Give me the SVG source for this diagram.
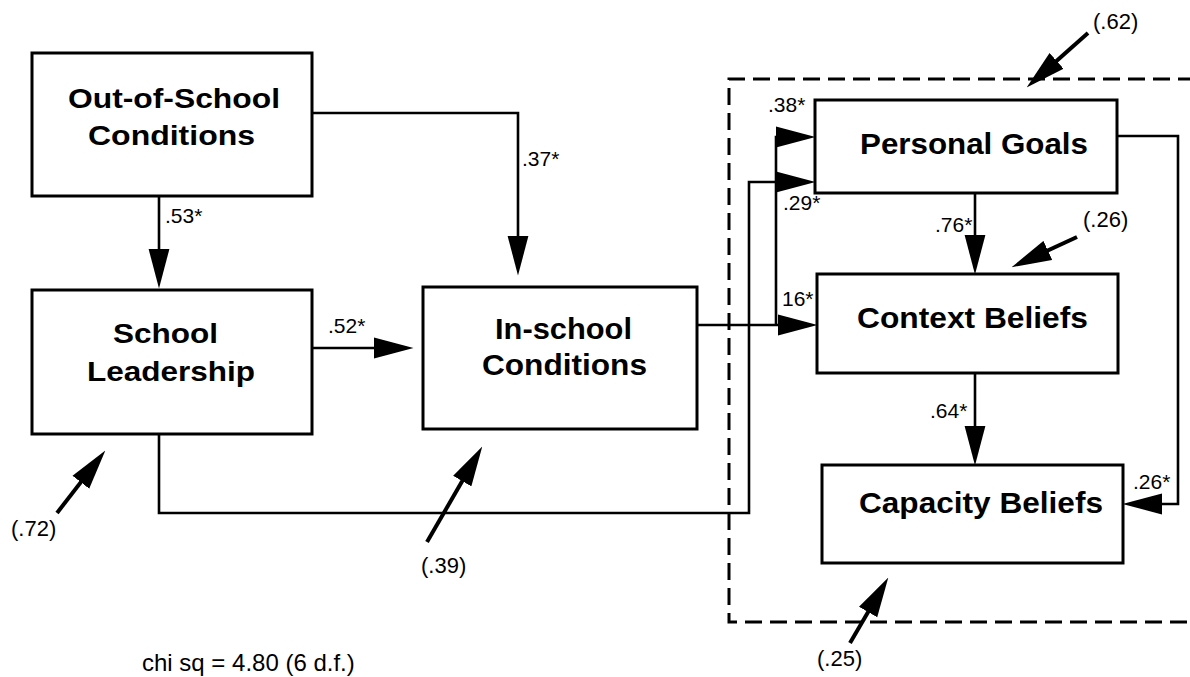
<svg xmlns="http://www.w3.org/2000/svg" width="1190" height="677" viewBox="0 0 1190 677">
<style>
.box{fill:#fff;stroke:#000;stroke-width:3}
.lbl{font-family:"Liberation Sans",Arial,sans-serif;font-weight:bold;fill:#000}
.conn{fill:none;stroke:#000;stroke-width:2.6;marker-end:url(#ah)}
.res{fill:none;stroke:#000;stroke-width:4;marker-end:url(#ah)}
.num{font-family:"Liberation Sans",Arial,sans-serif;font-size:21px;fill:#000}
.rnum{font-family:"Liberation Sans",Arial,sans-serif;font-size:22px;fill:#000}
.note{font-family:"Liberation Sans",Arial,sans-serif;font-size:24px;fill:#000}
.dash{fill:none;stroke:#000;stroke-width:3;stroke-dasharray:17 8}
</style>
<defs>
<marker id="ah" markerUnits="userSpaceOnUse" markerWidth="40" markerHeight="22" viewBox="0 0 38 20" refX="28" refY="10" orient="auto">
<path d="M0,0 L38,10 L0,20 z" fill="#000"/>
</marker>
</defs>
<rect width="1190" height="677" fill="#fff"/>

<path class="dash" d="M1195,79 L729,79 L729,622 L1195,622"/>

<g id="out-of-school">
<rect class="box" x="32" y="53" width="280" height="143"/>
<text class="lbl" font-size="28" x="68" y="108" textLength="212" lengthAdjust="spacingAndGlyphs">Out-of-School</text>
<text class="lbl" font-size="28" x="88" y="145" textLength="167" lengthAdjust="spacingAndGlyphs">Conditions</text>
</g>
<g id="school-leadership">
<rect class="box" x="32" y="290" width="280" height="144"/>
<text class="lbl" font-size="28" x="113" y="343" textLength="105" lengthAdjust="spacingAndGlyphs">School</text>
<text class="lbl" font-size="28" x="87" y="381" textLength="168" lengthAdjust="spacingAndGlyphs">Leadership</text>
</g>
<g id="in-school">
<rect class="box" x="423" y="287" width="274" height="142"/>
<text class="lbl" font-size="29" x="495" y="339" textLength="137" lengthAdjust="spacingAndGlyphs">In-school</text>
<text class="lbl" font-size="29" x="482" y="375" textLength="165" lengthAdjust="spacingAndGlyphs">Conditions</text>
</g>
<g id="personal-goals">
<rect class="box" x="815" y="100" width="302" height="93"/>
<text class="lbl" font-size="30" x="860" y="154" textLength="228" lengthAdjust="spacingAndGlyphs">Personal Goals</text>
</g>
<g id="context-beliefs">
<rect class="box" x="817" y="274" width="301" height="99"/>
<text class="lbl" font-size="30" x="857" y="328" textLength="231" lengthAdjust="spacingAndGlyphs">Context Beliefs</text>
</g>
<g id="capacity-beliefs">
<rect class="box" x="822" y="465" width="301" height="98"/>
<text class="lbl" font-size="30" x="859" y="513" textLength="244" lengthAdjust="spacingAndGlyphs">Capacity Beliefs</text>
</g>

<g id="connectors">
<path class="conn" d="M159,196 L159,278"/>
<path class="conn" d="M312,113 L518,113 L518,265"/>
<path class="conn" d="M312,348 L403,348"/>
<path class="conn" d="M697,325 L807,325"/>
<path class="conn" d="M776,325 L776,137 L805,137"/>
<path class="conn" d="M159,434 L159,513 L749,513 L749,182 L805,182"/>
<path class="conn" d="M975,193 L975,264"/>
<path class="conn" d="M975,373 L975,455"/>
<path class="conn" d="M1117,136 L1178,136 L1178,504 L1133,504"/>
<path class="res" d="M57,513 L98.9,458.9"/>
<path class="res" d="M427,542 L477,455.6"/>
<path class="res" d="M1088,33 L1034.5,80.4"/>
<path class="res" d="M1077,237 L1021.1,262.8"/>
<path class="res" d="M850,643 L883,586.6"/>
</g>

<g id="labels">
<text class="num" x="165" y="223">.53*</text>
<text class="num" x="522" y="166">.37*</text>
<text class="num" x="328" y="333">.52*</text>
<text class="num" x="782" y="306">16*</text>
<text class="num" x="768" y="112">.38*</text>
<text class="num" x="783" y="210">.29*</text>
<text class="num" x="935" y="232">.76*</text>
<text class="num" x="930" y="418">.64*</text>
<text class="num" x="1133" y="489">.26*</text>
<text class="rnum" x="11" y="536">(.72)</text>
<text class="rnum" x="421" y="573">(.39)</text>
<text class="rnum" x="1093" y="29">(.62)</text>
<text class="rnum" x="1083" y="227">(.26)</text>
<text class="rnum" x="817" y="666">(.25)</text>
<text class="note" x="142" y="671">chi sq = 4.80 (6 d.f.)</text>
</g>
</svg>
